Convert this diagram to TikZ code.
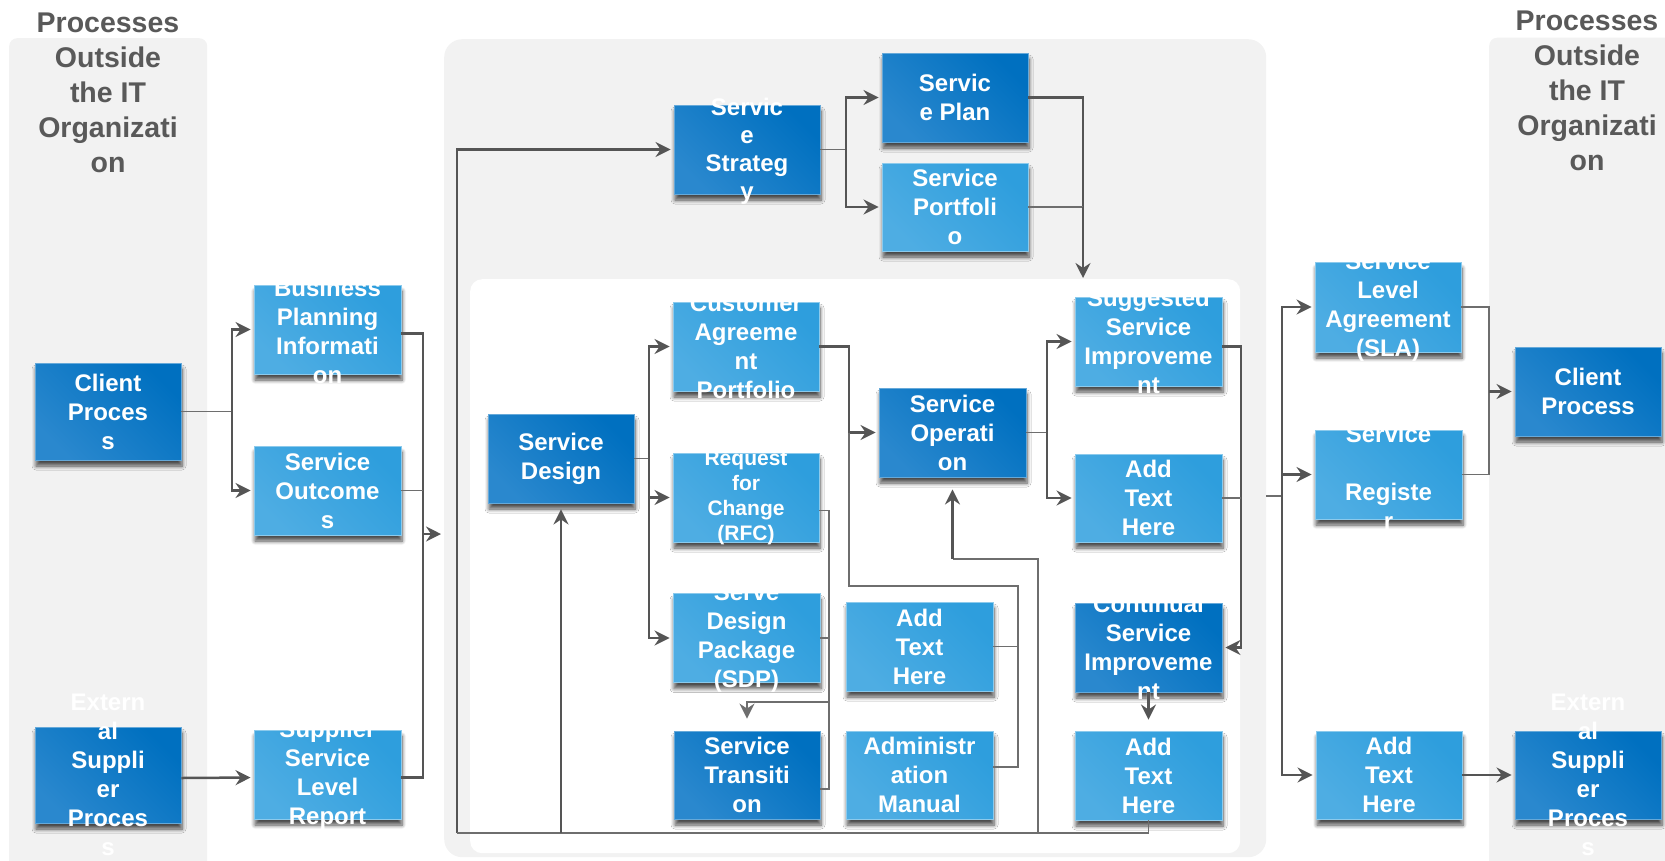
\documentclass[tikz,border=0pt]{standalone}
\usepackage{fontspec}
\setmainfont{Liberation Sans}
\usetikzlibrary{arrows.meta,shadows.blur,calc}

\definecolor{panelgray}{HTML}{F2F2F2}
\definecolor{darkblue}{HTML}{0070C0}
\definecolor{darkblueL}{HTML}{2A88CE}
\definecolor{lightblue}{HTML}{2E9EDD}
\definecolor{lightblueL}{HTML}{4EADE3}
\definecolor{titlegray}{HTML}{595959}
\definecolor{linedark}{HTML}{555555}
\definecolor{linelight}{HTML}{6E6E6E}

\tikzset{
  boxbase/.style={rectangle, inner sep=0pt, minimum width=147pt, minimum height=89pt,
    line width=0.9pt,
    blur shadow={shadow xshift=1pt, shadow yshift=-6pt, shadow blur radius=4pt,
      shadow opacity=70, shadow blur steps=6}},
  darkbox/.style={boxbase, draw=darkblue!60!white,
    top color=darkblueL, bottom color=darkblue, shading angle=135},
  lightbox/.style={boxbase, draw=lightblue!55!white,
    top color=lightblueL, bottom color=lightblue, shading angle=135},
  btxt/.style={text=white, font=\bfseries\fontsize{24}{29}\selectfont,
    align=center, inner sep=0pt},
  ttl/.style={text=titlegray, font=\bfseries\fontsize{28.5}{35}\selectfont,
    align=center, inner sep=0pt},
  panel/.style={fill=panelgray, inner sep=0pt, anchor=north west},
  thk/.style={draw=linedark, line width=2.5pt},
  thn/.style={draw=linelight, line width=1.2pt},
  arr/.style={-{Stealth[length=15pt,width=15pt,inset=5pt]}, shorten >=3pt},
}

% box with its caption laid over it (captions may run past the box edges)
\newcommand{\procbox}[5][]{%
  \node[#2] (#3) at (#4) {};
  \node[btxt,#1] (#3-t) at (#3.center) {#5};
}

\begin{document}
\begin{tikzpicture}[x=1pt,y=-1pt]
\useasboundingbox (0,0) rectangle (1665,860);
\clip (0,0) rectangle (1665,860);

% ---- panels ----
\node[panel, rounded corners=8pt, minimum width=198pt, minimum height=840pt] (lpanel) at (9,38) {};
\node[panel, rounded corners=8pt, minimum width=210pt, minimum height=840pt] (rpanel) at (1489,37.5) {};
\node[panel, rounded corners=18pt, minimum width=822pt, minimum height=818pt] (core) at (444,39) {};
\node[panel, fill=white, rounded corners=12pt, minimum width=770pt, minimum height=574pt] (inner) at (470,279) {};

% ---- titles ----
\node[ttl] (ltitle) at (108,92.5) {Processes\\Outside\\the IT\\Organizati\\on};
\node[ttl] (rtitle) at (1587,91) {Processes\\Outside\\the IT\\Organizati\\on};

% ---- left column ----
\procbox{darkbox, minimum width=146pt, minimum height=97pt}{cli}{108,411.5}{Client\\Proces\\s}
\procbox{darkbox, minimum width=146pt, minimum height=96pt}{ext}{108,775}{Extern\\al\\Suppli\\er\\Proces\\s}
\procbox[yshift=-2pt]{lightbox}{bpi}{327.5,329.5}{Business\\Planning\\Informati\\on}
\procbox{lightbox}{sout}{327.5,490.5}{Service\\Outcome\\s}
\procbox{lightbox}{sslr}{327.5,774.5}{Supplier\\Service\\Level\\Report}

% ---- strategy ----
\procbox[yshift=-2pt, font=\bfseries\fontsize{24}{28}\selectfont]{darkbox, minimum width=146pt}{ss}{747,149.5}{Servic\\e\\Strateg\\y}
\procbox{darkbox, minimum width=146pt}{plan}{955,97.5}{Servic\\e Plan}
\procbox{lightbox, minimum width=146pt, minimum height=88pt}{port}{955,207}{Service\\Portfoli\\o}

% ---- design / transition / operation ----
\procbox{darkbox, minimum width=146pt}{sd}{561,458.5}{Service\\Design}
\procbox{lightbox, minimum width=146pt}{cap}{746,346.5}{Customer\\Agreeme\\nt\\Portfolio}
\procbox[font=\bfseries\fontsize{21}{25}\selectfont]{lightbox, minimum width=146pt}{rfc}{746,497.5}{Request\\for\\Change\\(RFC)}
\procbox{lightbox}{sdp}{746.5,638}{Serve\\Design\\Package\\(SDP)}
\procbox{darkbox, minimum width=146pt, minimum height=88pt}{st}{747,775}{Service\\Transiti\\on}
\procbox{darkbox}{so}{952.5,432.5}{Service\\Operati\\on}
\procbox{lightbox}{ath2}{919.5,646.5}{Add\\Text\\Here}
\procbox{lightbox, minimum height=88pt}{am}{919.5,775}{Administr\\ation\\Manual}

% ---- improvement ----
\procbox{lightbox}{ssi}{1148.5,341.5}{Suggested\\Service\\Improveme\\nt}
\procbox{lightbox, minimum height=88pt}{ath1}{1148.5,498}{Add\\Text\\Here}
\procbox{darkbox}{csi}{1148.5,647.5}{Continual\\Service\\Improveme\\nt}
\procbox{lightbox}{ath3}{1148.5,775.5}{Add\\Text\\Here}

% ---- right column ----
\procbox{lightbox, minimum width=146pt, minimum height=90pt}{sla}{1388,307}{Service\\Level\\Agreement\\(SLA)}
\procbox[yshift=-2.5pt]{lightbox}{reg}{1388.5,474.5}{Service\\~\\Registe\\r}
\procbox{lightbox, minimum width=146pt, minimum height=88pt}{ath4}{1389,775}{Add\\Text\\Here}
\procbox{darkbox, minimum width=146pt}{cpr}{1588,391.5}{Client\\Process}
\procbox{darkbox, minimum width=146pt, minimum height=88pt}{espr}{1588,775}{Extern\\al\\Suppli\\er\\Proces\\s}

% ---- connectors: left ----
\coordinate (lsplit) at (232,411.5);
\draw[thn] (cli.east) -- (lsplit);
\draw[thk,arr] (lsplit) |- (bpi.west);
\draw[thk,arr] (lsplit) |- (sout.west);

\coordinate (lmerge) at (423,534);
\draw[thk] ([yshift=-4pt]bpi.east) -| (lmerge);
\draw[thk] ([yshift=-3pt]sslr.east) -| (lmerge);
\draw[thn] (sout.east) -- (sout.east -| lmerge);
\draw[thk,arr] (lmerge) -- (lmerge -| core.west);
\draw[thk,arr] ([yshift=-3pt]ext.east) -- ([yshift=-3pt]sslr.west);

% ---- connectors: feedback loop along the bottom ----
\coordinate (bl) at (457,833);
\draw[thk,arr] (bl) |- (ss.west);
\draw[thn] (ath3.south) |- (bl);
\draw[thk,arr,shorten >=6pt] (sd.south |- bl) -- (sd.south);
\coordinate (sofb) at (1038,559);
\draw[thn] (sofb |- bl) -- (sofb) -- (sofb -| so.south);
\draw[thk,arr,shorten >=12pt] (sofb -| so.south) -- (so.south);

% ---- connectors: strategy ----
\coordinate (ssplit) at (846,149.5);
\draw[thn] (ss.east) -- (ssplit);
\draw[thk,arr] (ssplit) |- (plan.west);
\draw[thk,arr] (ssplit) |- (port.west);
\coordinate (pdrop) at (1083,207);
\draw[thk] (plan.east) -| (pdrop);
\draw[thn] (port.east) -- (pdrop);
\draw[thk,arr,shorten >=1pt] (pdrop) -- (pdrop |- inner.north);

% ---- connectors: design ----
\coordinate (sdsplit) at (649,458.5);
\draw[thn] (sd.east) -- (sdsplit);
\draw[thk,arr] (sdsplit) |- (cap.west);
\draw[thk,arr] (sdsplit) |- (rfc.west);
\draw[thk,arr] (sdsplit) |- (sdp.west);

\coordinate (capj) at (849,432.5);
\draw[thk,arr] (cap.east) -| (capj) -- (so.west);
\coordinate (mbr) at (1018,586);
\draw[thn] (capj) |- (mbr) |- ([yshift=8pt]am.east);
\draw[thn] (ath2.east) -- (ath2.east -| mbr);

\coordinate (rbr) at (829,702);
\draw[thn] ([yshift=-13pt]rfc.east) -| (rbr);
\draw[thn] ([yshift=-14pt]st.east) -| (rbr);
\draw[thn] (sdp.east) -- (sdp.east -| rbr);
\draw[thn,arr,shorten >=12pt] (rbr) -| (st.north);

% ---- connectors: operation and improvement ----
\coordinate (osplit) at (1047,432.5);
\draw[thn] (so.east) -- (osplit);
\draw[thk,arr] (osplit) |- (ssi.west);
\draw[thk,arr] (osplit) |- (ath1.west);

\coordinate (smerge) at (1241,346.5);
\draw[thk,arr] ([yshift=-5pt]ssi.east) -| (smerge |- csi.east) -- (csi.east);
\draw[thn] (ath1.east) -- (ath1.east -| smerge);
\draw[thk,arr,shorten >=11pt] (csi.south) -- (ath3.north);

% ---- connectors: right ----
\coordinate (rsplit) at (1282,496);
\draw[thn] (rsplit -| core.east) -- (rsplit);
\draw[thk,arr] (rsplit) |- (sla.west);
\draw[thk,arr] (rsplit) |- (reg.west);
\draw[thk,arr] (rsplit) |- (ath4.west);
\coordinate (rmerge) at (1489,391.5);
\draw[thn] (sla.east) -| (rmerge);
\draw[thn] (reg.east) -| (rmerge);
\draw[thk,arr] (rmerge) -- (cpr.west);
\draw[thk,arr] (ath4.east) -- (espr.west);

\end{tikzpicture}
\end{document}
